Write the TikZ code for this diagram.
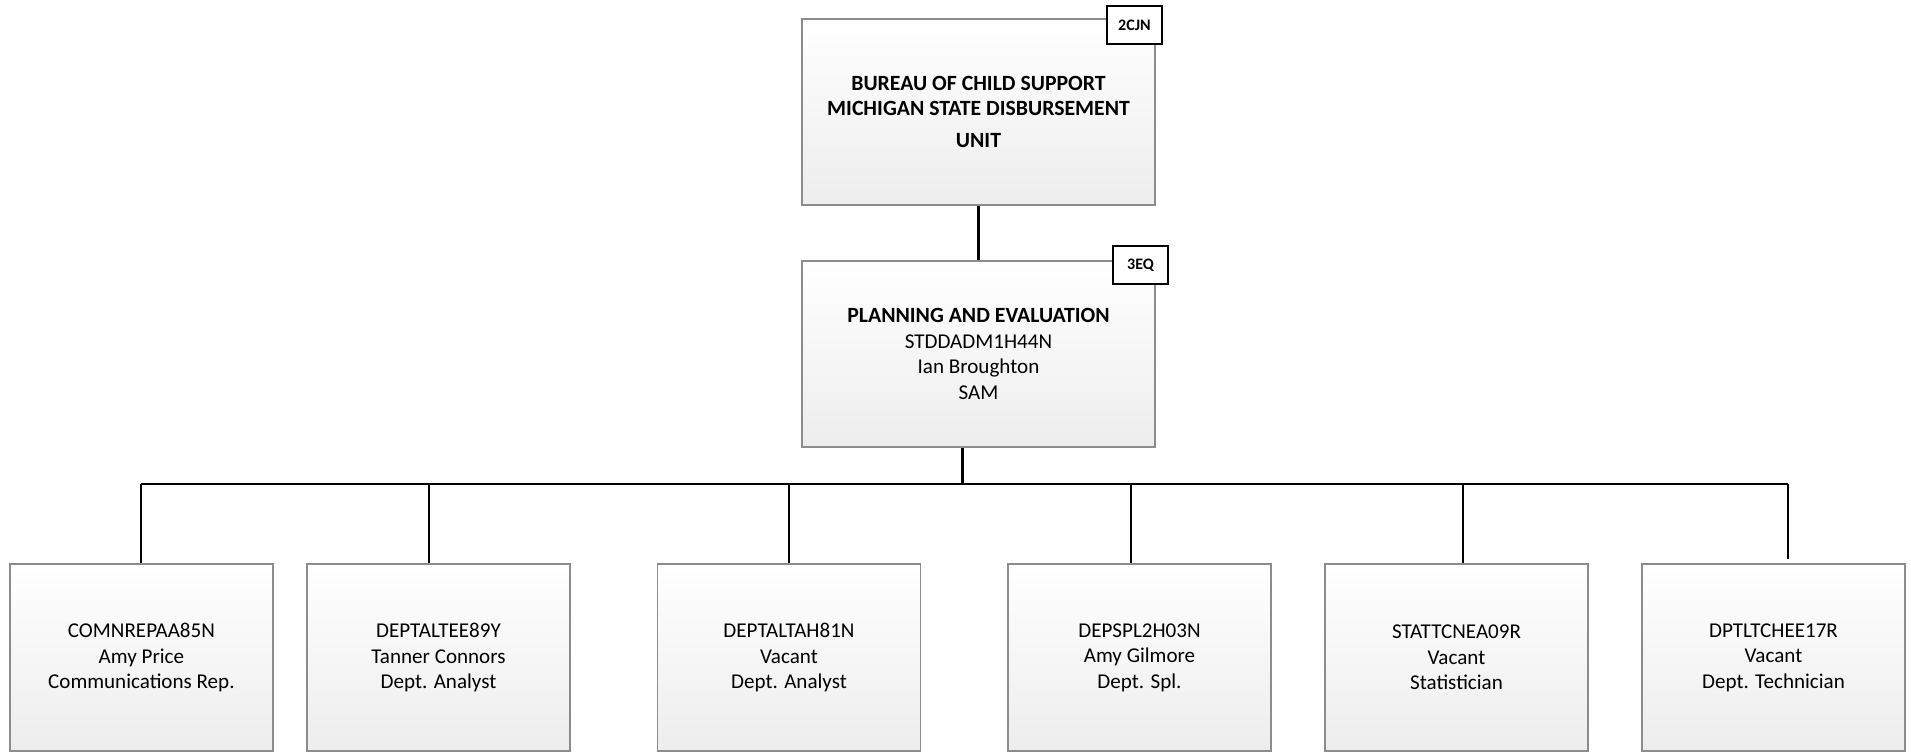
\documentclass[tikz,border=0pt]{standalone}
\usepackage{fontspec}
\setmainfont{Carlito}
\definecolor{boxline}{HTML}{8C8C8C}
\definecolor{boxbot}{HTML}{EDEDED}
\newcommand{\bigbold}{\fontsize{16.3}{18.9}\selectfont\bfseries}
\begin{document}
\begin{tikzpicture}[x=0.75pt,y=-0.75pt,
  unitbox/.style={draw=boxline, line width=1.1pt, top color=white, bottom color=boxbot,
    rectangle, inner sep=0pt, align=center, font=\fontsize{15.8}{19.2}\selectfont},
  topbox/.style={unitbox, minimum width=353*0.75pt, minimum height=186*0.75pt},
  childbox/.style={unitbox, minimum width=263*0.75pt, minimum height=187*0.75pt},
  tagbox/.style={draw=black, line width=1.5pt, fill=white, rectangle, inner sep=0pt,
    minimum width=55*0.75pt, minimum height=38*0.75pt, font=\fontsize{12}{14}\selectfont\bfseries},
  link/.style={draw=black, line width=1.6pt}]
\useasboundingbox (0,0) rectangle (1911,752);

% top two boxes
\node[topbox] (bcs) at (978.5,112) {\bigbold BUREAU OF CHILD SUPPORT\\ \bigbold MICHIGAN STATE DISBURSEMENT\\[5pt] \bigbold UNIT};
\node[topbox] (pe) at (978.5,354) {\bigbold PLANNING AND EVALUATION\\ STDDADM1H44N\\ Ian Broughton\\ SAM};

\node[tagbox] (t1) at (1134.5,25) {2CJN};
\node[tagbox] (t2) at (1140.5,265.5) {3EQ};

% children
\node[childbox] (c1) at (141.4,657.5) {COMNREPAA85N\\ Amy Price\\ Communications Rep.};
\node[childbox] (c2) at (438.5,657.5) {DEPTALTEE89Y\\ Tanner Connors\\ Dept. Analyst};
\node[childbox] (c3) at (789,657.5) {DEPTALTAH81N\\ Vacant\\ Dept. Analyst};
\node[childbox] (c4) at (1139.5,657.5) {DEPSPL2H03N\\ Amy Gilmore\\ Dept. Spl.};
\node[childbox] (c5) at (1456.5,657.5) {STATTCNEA09R\\ Vacant\\ Statistician};
\node[childbox] (c6) at (1773.5,657.5) {DPTLTCHEE17R\\ Vacant\\ Dept. Technician};

% connectors
\draw[link] (bcs.south) -- (pe.north);
\coordinate (bus) at (962.5,484);
\coordinate (d1) at (141.4,484);
\coordinate (d2) at (429,484);
\coordinate (d3) at (788.6,484);
\coordinate (d4) at (1131,484);
\coordinate (d5) at (1462.6,484);
\coordinate (d6) at (1788,484);
\coordinate (e6) at (1788,559);
\draw[link] (pe.south -| bus) -- (bus);
\draw[link] (d1) -- (d6);
\draw[link] (d1) -- (d1 |- c1.north);
\draw[link] (d2) -- (d2 |- c2.north);
\draw[link] (d3) -- (d3 |- c3.north);
\draw[link] (d4) -- (d4 |- c4.north);
\draw[link] (d5) -- (d5 |- c5.north);
\draw[link] (d6) -- (e6);
\end{tikzpicture}
\end{document}
